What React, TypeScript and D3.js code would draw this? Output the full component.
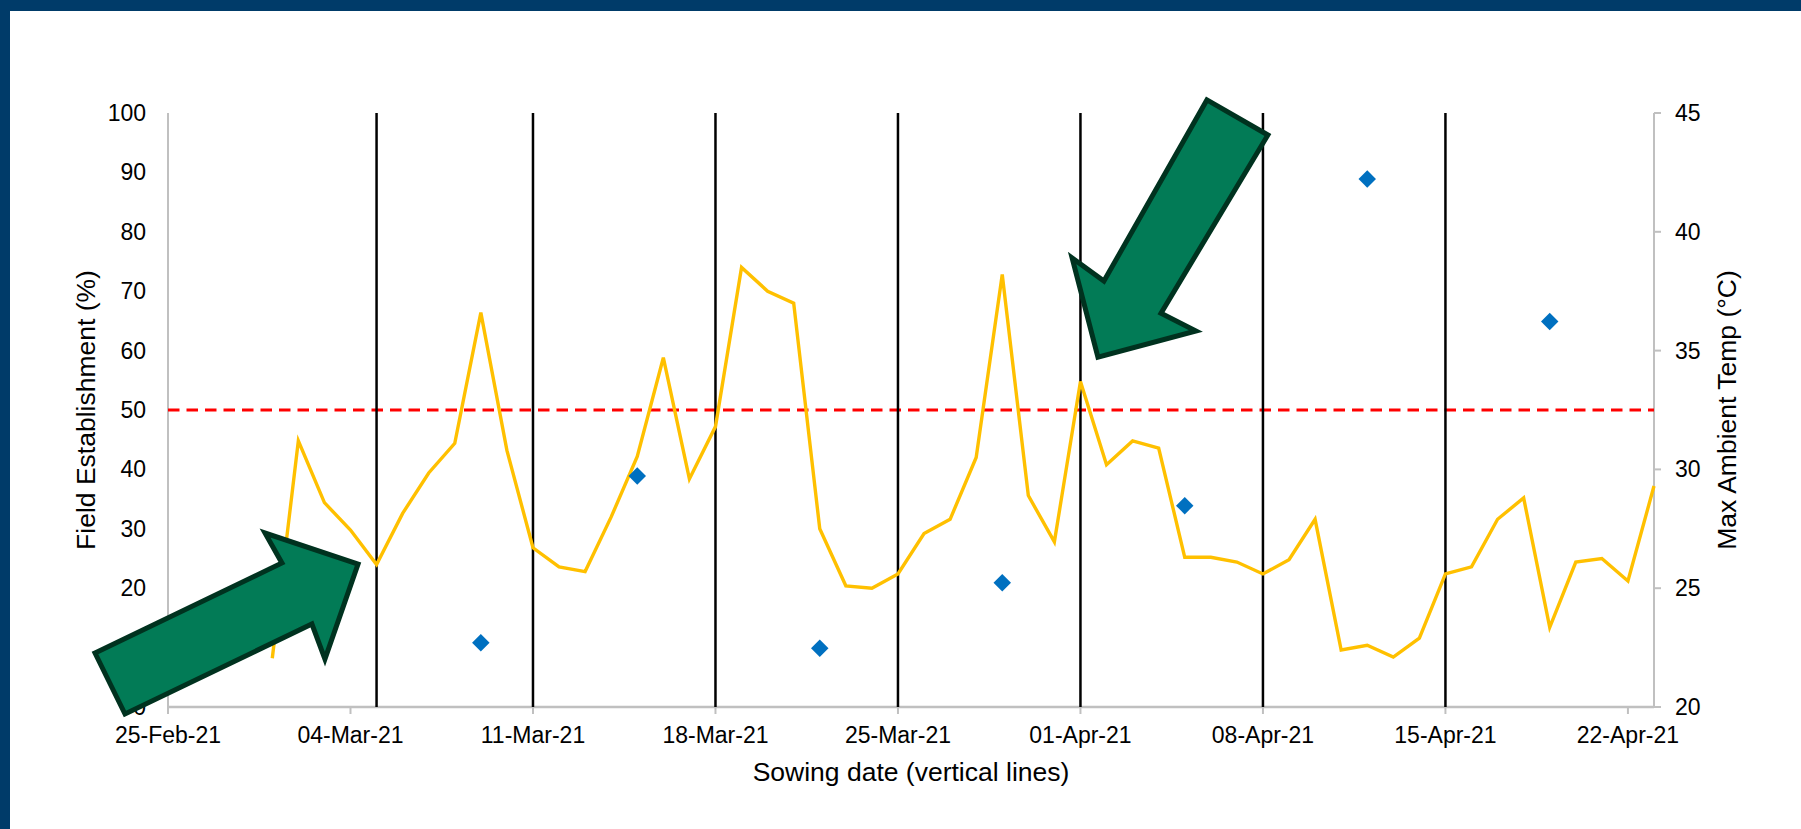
import React from "react";
import * as d3 from "d3";

// ---------- data ----------
const X_START = "2021-02-25";
const X_END = "2021-04-23";
const X_TICK_DATES = [
  "2021-02-25", "2021-03-04", "2021-03-11", "2021-03-18", "2021-03-25",
  "2021-04-01", "2021-04-08", "2021-04-15", "2021-04-22",
];
const SOWING_DATES = [
  "2021-03-05", "2021-03-11", "2021-03-18", "2021-03-25",
  "2021-04-01", "2021-04-08", "2021-04-15",
];
const FE_DATES = [
  "2021-03-09", "2021-03-15", "2021-03-22", "2021-03-29",
  "2021-04-05", "2021-04-12", "2021-04-19",
];
const FE_VALUES = [10.8, 38.9, 9.9, 20.9, 33.9, 88.9, 64.9];

const TEMP_START = "2021-03-01";
const TEMP_VALUES = [
  22.05, 31.2, 28.6, 27.45, 26.0, 28.15, 29.85, 31.1, 36.6, 30.8,
  26.7, 25.9, 25.7, 28.0, 30.55, 34.7, 29.6, 31.8, 38.5, 37.5,
  37.0, 27.5, 25.1, 25.0, 25.6, 27.3, 27.9, 30.5, 38.2, 28.9,
  26.95, 33.7, 30.2, 31.2, 30.9, 26.3, 26.3, 26.1, 25.6, 26.2,
  27.9, 22.4, 22.6, 22.1, 22.9, 25.6, 25.9, 27.9, 28.8, 23.35,
  26.1, 26.25, 25.3, 29.3,
];
const THRESHOLD = 50;
const LEFT_TICKS = [0, 10, 20, 30, 40, 50, 60, 70, 80, 90, 100];
const RIGHT_TICKS = [20, 25, 30, 35, 40, 45];

// annotation arrows, in (days from 25-Feb, % establishment)
const ARROW_1: [number, number][] = [
  [-2.8, 9.09], [4.37, 24.24], [3.72, 29.29], [7.29, 24.07],
  [6.02, 8.08], [5.52, 13.97], [-1.65, -1.18],
];
const ARROW_2: [number, number][] = [
  [39.85, 102.2], [42.19, 96.3], [38.09, 66.3], [39.43, 63.3],
  [35.67, 58.9], [34.68, 75.6], [35.9, 71.7],
];

const parse = (s: string) => new Date(s + "T00:00:00Z");
const DAY = 86400000;

export default function App() {
  const W = 1801, H = 829;
  const left = 168, right = 1654, top = 113, bottom = 707;
  const font = "'Liberation Sans', Arial, sans-serif";

  const x = d3.scaleUtc().domain([parse(X_START), parse(X_END)]).range([left, right]);
  const yL = d3.scaleLinear().domain([0, 100]).range([bottom, top]);
  const yR = d3.scaleLinear().domain([20, 45]).range([bottom, top]);
  const fmt = d3.utcFormat("%d-%b-%y");

  const t0 = parse(TEMP_START).getTime();
  const tempData = TEMP_VALUES.map((v, i) => ({ d: new Date(t0 + i * DAY), v }));
  const line = d3.line<{ d: Date; v: number }>().x((p) => x(p.d)).y((p) => yR(p.v));

  const xs0 = parse(X_START).getTime();
  const arrowPath = (pts: [number, number][]) =>
    "M" + pts.map(([dd, p]) => `${x(new Date(xs0 + dd * DAY))},${yL(p)}`).join("L") + "Z";

  const diamond = d3.symbol().type(d3.symbolDiamond2).size(195)();

  return (
    <svg width={W} height={H} style={{ position: "absolute", left: 0, top: 0, background: "#fff" }}
      fontFamily={font}>
      <rect x={0} y={0} width={W} height={H} fill="#fff" />
      {/* frame */}
      <rect x={0} y={0} width={W} height={11} fill="#003b69" />
      <rect x={0} y={0} width={10} height={H} fill="#003b69" />

      {/* axes */}
      <line x1={left} x2={left} y1={top} y2={bottom} stroke="#c0c0c0" strokeWidth={2} />
      <line x1={right} x2={right} y1={top} y2={bottom} stroke="#c0c0c0" strokeWidth={2} />
      <line x1={left} x2={right} y1={bottom} y2={bottom} stroke="#c0c0c0" strokeWidth={2.5} />

      {X_TICK_DATES.map((s) => (
        <g key={s}>
          <line x1={x(parse(s))} x2={x(parse(s))} y1={bottom} y2={bottom + 7} stroke="#c0c0c0" strokeWidth={2} />
          <text x={x(parse(s))} y={743} textAnchor="middle" fontSize={23} fill="#000">
            {fmt(parse(s))}
          </text>
        </g>
      ))}
      {LEFT_TICKS.map((t) => (
        <text key={t} x={146} y={yL(t)} dy="0.35em" textAnchor="end" fontSize={23} fill="#000">
          {t}
        </text>
      ))}
      {RIGHT_TICKS.map((t) => (
        <g key={t}>
          <line x1={right} x2={right + 7} y1={yR(t)} y2={yR(t)} stroke="#c0c0c0" strokeWidth={2} />
          <text x={1675} y={yR(t)} dy="0.35em" textAnchor="start" fontSize={23} fill="#000">
            {t}
          </text>
        </g>
      ))}

      {/* axis titles */}
      <text transform={`translate(86,${(top + bottom) / 2}) rotate(-90)`} dy="0.35em" textAnchor="middle"
        fontSize={26.5} fill="#000">Field Establishment (%)</text>
      <text transform={`translate(1727,${(top + bottom) / 2}) rotate(-90)`} dy="0.35em" textAnchor="middle"
        fontSize={26.5} fill="#000">Max Ambient Temp (°C)</text>
      <text x={(left + right) / 2} y={781} textAnchor="middle" fontSize={26.5} fill="#000">
        Sowing date (vertical lines)
      </text>

      {/* threshold */}
      <line x1={left} x2={right} y1={yL(THRESHOLD)} y2={yL(THRESHOLD)} stroke="#ff0000" strokeWidth={3}
        strokeDasharray="11.5 7" />

      {/* sowing dates */}
      {SOWING_DATES.map((s) => (
        <line key={s} x1={x(parse(s))} x2={x(parse(s))} y1={top} y2={bottom} stroke="#000" strokeWidth={2.5} />
      ))}

      {/* temperature line */}
      <path d={line(tempData) || ""} fill="none" stroke="#ffc000" strokeWidth={3.4} strokeLinejoin="miter" />

      {/* field establishment */}
      {FE_DATES.map((s, i) => (
        <path key={s} d={diamond || ""} transform={`translate(${x(parse(s))},${yL(FE_VALUES[i])})`} fill="#0070c0" />
      ))}

      {/* arrows */}
      <path d={arrowPath(ARROW_1)} fill="#027b56" stroke="#00321f" strokeWidth={5} strokeLinejoin="miter" />
      <path d={arrowPath(ARROW_2)} fill="#027b56" stroke="#00321f" strokeWidth={5} strokeLinejoin="miter" />
    </svg>
  );
}
